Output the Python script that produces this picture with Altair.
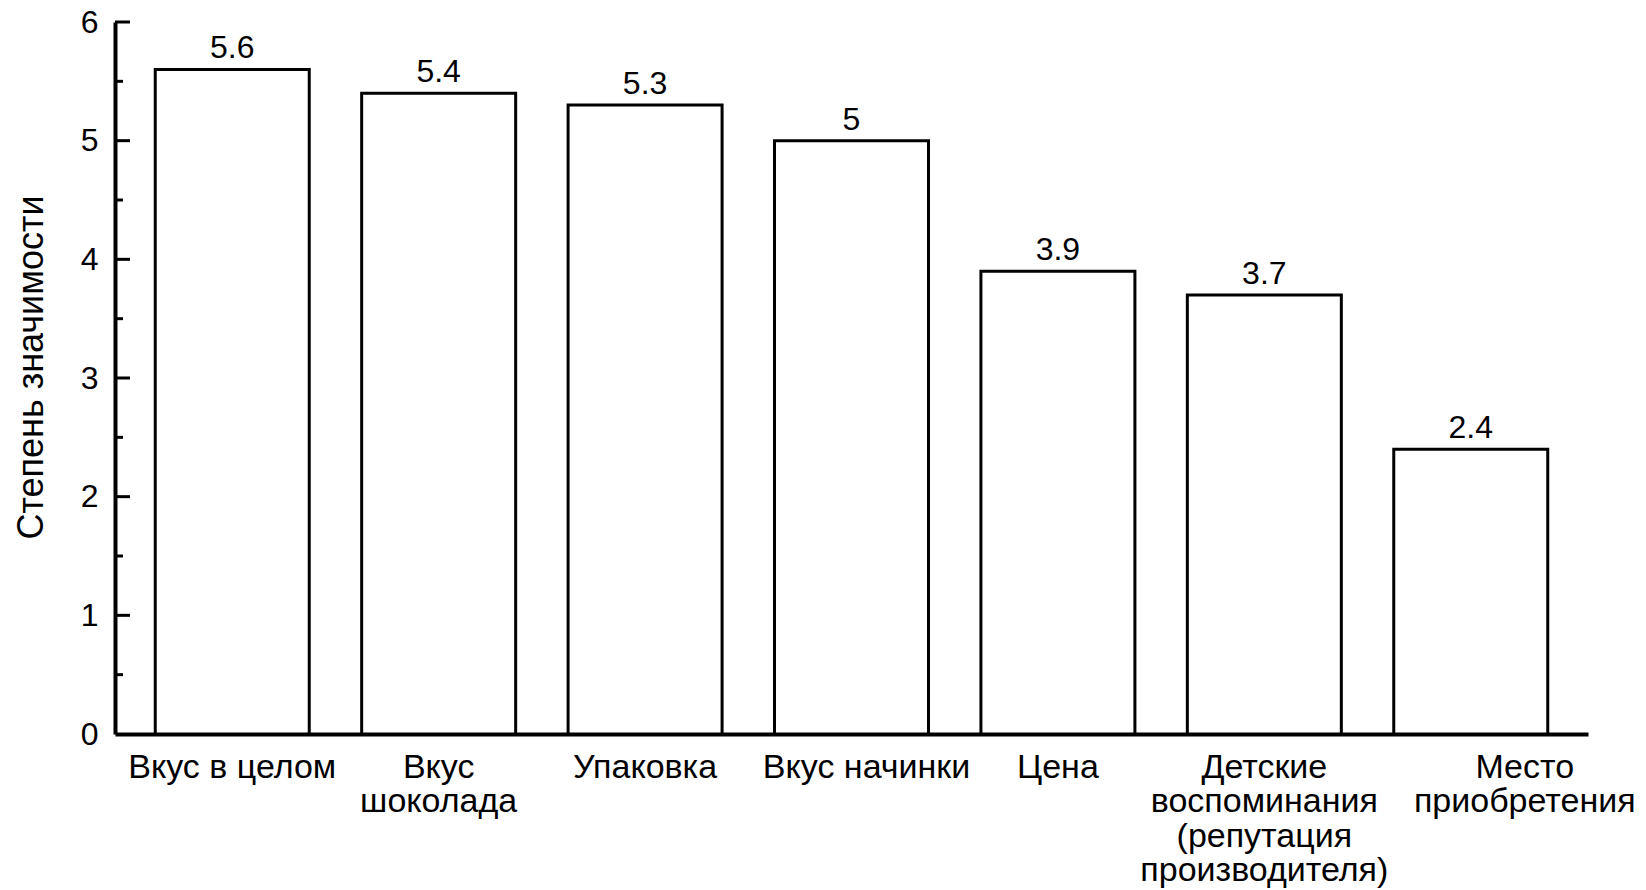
import altair as alt
import pandas as pd

# Importance ratings of chocolate purchase factors
factors = [
    "Вкус в целом",
    "Вкус|шоколада",
    "Упаковка",
    "Вкус начинки",
    "Цена",
    "Детские|воспоминания|(репутация|производителя)",
    "Место|приобретения",
]
scores = [5.6, 5.4, 5.3, 5.0, 3.9, 3.7, 2.4]

major_ticks = [1, 2, 3, 4, 5, 6]
minor_ticks = [0.5, 1.5, 2.5, 3.5, 4.5, 5.5]

FONT = "Liberation Sans"
FS = 32

bars_df = pd.DataFrame({"factor": factors, "score": scores})
major_df = pd.DataFrame({"t": major_ticks})
minor_df = pd.DataFrame({"t": minor_ticks})

x_enc = alt.X(
    "factor:N",
    sort=factors,
    scale=alt.Scale(paddingInner=0.254, paddingOuter=0.195),
    axis=alt.Axis(
        title=None,
        ticks=False,
        domainColor="black",
        domainWidth=4,
        labelExpr="split(datum.label, '|')",
        labelFont=FONT,
        labelFontSize=34,
        labelColor="black",
        labelPadding=16,
        labelLineHeight=34.5,
        labelAngle=0,
        labelLimit=0,
        labelBaseline="top",
        labelOverlap=False,
        labelOffset={
            "condition": [
                {"test": "datum.value == 'Место|приобретения'", "value": 54},
                {"test": "datum.value == 'Вкус начинки'", "value": 15},
            ],
            "value": 0,
        },
    ),
)

y_scale = alt.Scale(domain=[0, 6], nice=False)

y_enc = alt.Y(
    "score:Q",
    scale=y_scale,
    axis=alt.Axis(
        title="Степень значимости",
        titleFont=FONT,
        titleFontSize=36,
        titleFontWeight="normal",
        titleColor="black",
        titleX=-73,
        titleY=345,
        titleAngle=270,
        titleBaseline="alphabetic",
        titleAlign="center",
        values=[0, 1, 2, 3, 4, 5, 6],
        format="d",
        ticks=False,
        grid=False,
        domainColor="black",
        domainWidth=4,
        labelFont=FONT,
        labelFontSize=FS,
        labelColor="black",
        labelPadding=17,
    ),
)

base = alt.Chart(bars_df)

bars = base.mark_bar(fill="white", stroke="black", strokeWidth=3).encode(
    x=x_enc, y=y_enc
)

values = base.mark_text(
    font=FONT, fontSize=FS, color="black", baseline="alphabetic", dy=-11
).encode(
    x=alt.X("factor:N", sort=factors),
    y=alt.Y("score:Q"),
    text=alt.Text("score:Q", format="~g"),
)

major = alt.Chart(major_df).mark_rule(color="black", strokeWidth=3).encode(
    y=alt.Y("t:Q", scale=y_scale),
    x=alt.value(0),
    x2=alt.value(15),
)

minor = alt.Chart(minor_df).mark_rule(color="black", strokeWidth=3).encode(
    y=alt.Y("t:Q", scale=y_scale),
    x=alt.value(0),
    x2=alt.value(8),
)

chart = (
    alt.layer(bars, values, major, minor)
    .properties(
        width=1473,
        height=712,
        autosize=alt.AutoSizeParams(type="none"),
        padding={"left": 115, "top": 22, "right": 58, "bottom": 156},
        background="white",
    )
    .configure_view(stroke=None)
)

chart.save("out.html", embed_options={"renderer": "svg", "actions": False})
